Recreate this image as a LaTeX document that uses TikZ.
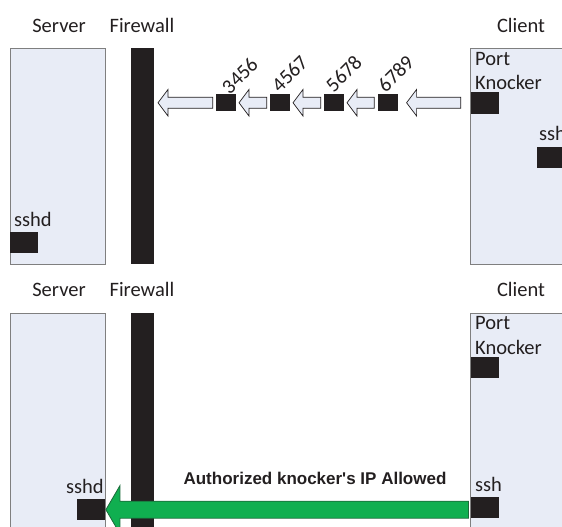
\documentclass[tikz,border=0pt]{standalone}
\usepackage{fontspec}
\setmainfont{Carlito}
\newfontfamily\arialfont{Liberation Sans}
\usetikzlibrary{calc}
\definecolor{panel}{HTML}{E8ECF6}
\definecolor{panelline}{HTML}{7F7F7F}
\definecolor{ink}{HTML}{231F20}
\definecolor{go}{HTML}{10AF50}
\definecolor{goline}{HTML}{1B6B3A}
\tikzset{
  x=1bp,y=-1bp,
  panelbox/.style={draw=panelline,fill=panel,line width=0.9bp,inner sep=0,anchor=north west},
  wall/.style={fill=ink,draw=none,inner sep=0,anchor=north west,minimum width=23bp},
  port/.style={fill=ink,draw=none,inner sep=0,anchor=north west},
  lbl/.style={text=ink,font=\fontsize{20.5bp}{22bp}\selectfont,inner sep=0,text height=13bp,text depth=0bp},
  lblw/.style={lbl,anchor=west},
  knock/.style={lbl,rotate=45},
  lightarrow/.style={draw=ink,fill=panel,line width=0.7bp,line join=miter},
  greenarrow/.style={draw=goline,fill=go,line width=0.8bp,line join=miter}
}
% #1 style, #2 tip, #3 tail, #4 half shaft, #5 half head, #6 head length
\newcommand{\blockarrow}[6]{%
  \path[#1] let \p1=(#2),\p2=(#3) in
    (\x1,\y1) -- ([xshift=#6bp,yshift=#5bp]\x1,\y1) -- ([xshift=#6bp,yshift=#4bp]\x1,\y1)
    -- ([yshift=#4bp]\x2,\y1) -- ([yshift=-#4bp]\x2,\y1)
    -- ([xshift=#6bp,yshift=-#4bp]\x1,\y1) -- ([xshift=#6bp,yshift=-#5bp]\x1,\y1) -- cycle;}
\begin{document}
\begin{tikzpicture}
\useasboundingbox (0,0) rectangle (562,527);
\clip (0,0) rectangle (562,527);
\fill[white] (0,0) rectangle (562,527);
% top panel
\node[panelbox,minimum width=95bp,minimum height=216bp] (srvA) at (10,48) {};
\node[wall,minimum height=216bp] (fwA) at (131,48) {};
\node[panelbox,minimum width=110bp,minimum height=216bp] (cliA) at (470,48) {};
\node[lbl] (srvAl) at (59,26) {Server};
\node[lbl] (fwAl) at (142,26) {Firewall};
\node[lbl] (cliAl) at (521,26) {Client};
\node[port,minimum width=28bp,minimum height=21bp] (sshdA) at (10,232) {};
\node[lblw] (sshdAl) at (14,220) {sshd};
\node[port,minimum width=28bp,minimum height=22bp] (pkA) at (470.5,92) {};
\node[lblw] (pA) at (475,59) {Port};
\node[lblw] (kA) at (475,83) {Knocker};
\node[port,minimum width=30bp,minimum height=21bp] (sshA) at (537,147) {};
\node[lblw] (sshAl) at (539,134) {ssh};
\foreach \n/\x in {a/216,b/270,c/324,d/378}
  \node[port,minimum width=19.5bp,minimum height=16.5bp] (\n) at (\x,94) {};
\node[knock] (la) at (240,76) {3456};
\node[knock] (lb) at (290,74) {4567};
\node[knock] (lc) at (344,74) {5678};
\node[knock] (ld) at (396,74) {6789};
\coordinate (t1) at ($(a.west)+(-58,0.3)$);
\coordinate (e1) at ($(a.west)+(-3.3,0.3)$);
\coordinate (t2) at ($(b.west)+(-31,0.3)$);
\coordinate (e2) at ($(b.west)+(-3.3,0.3)$);
\coordinate (t3) at ($(c.west)+(-31,0.3)$);
\coordinate (e3) at ($(c.west)+(-3.3,0.3)$);
\coordinate (t4) at ($(d.west)+(-31,0.3)$);
\coordinate (e4) at ($(d.west)+(-3.7,0.3)$);
\coordinate (t5) at ($(d.east)+(8.7,0.3)$);
\coordinate (e5) at ($(pkA.west)+(-9.7,0)$);
\blockarrow{lightarrow}{t1}{e1}{5.5}{13.3}{10}
\blockarrow{lightarrow}{t2}{e2}{5.5}{13.3}{10}
\blockarrow{lightarrow}{t3}{e3}{5.5}{13.3}{10}
\blockarrow{lightarrow}{t4}{e4}{5.5}{13.3}{10}
\blockarrow{lightarrow}{t5}{e5}{5.5}{13.3}{10}
% bottom panel
\node[panelbox,minimum width=95bp,minimum height=240bp] (srvB) at (10,312.5) {};
\node[wall,minimum height=240bp] (fwB) at (131,312.5) {};
\node[panelbox,minimum width=110bp,minimum height=240bp] (cliB) at (470,312.5) {};
\node[lbl] (srvBl) at (59,290) {Server};
\node[lbl] (fwBl) at (142,290) {Firewall};
\node[lbl] (cliBl) at (521,290) {Client};
\node[port,minimum width=28bp,minimum height=21bp] (sshdB) at (77,499) {};
\node[lblw] (sshdBl) at (66,487) {sshd};
\node[port,minimum width=28bp,minimum height=21bp] (pkB) at (470.5,357) {};
\node[lblw] (pB) at (475,323) {Port};
\node[lblw] (kB) at (475,348) {Knocker};
\node[port,minimum width=28bp,minimum height=21bp] (sshB) at (470.5,497) {};
\node[lblw] (sshBl) at (475,485) {ssh};
\node[inner sep=0,text=ink,font=\arialfont\bfseries\fontsize{17bp}{18bp}\selectfont] (auth) at (315,478) {Authorized knocker's IP Allowed};
\coordinate (gt) at ($(sshdB.east)+(0.5,0)$);
\coordinate (ge) at ($(sshB.west)+(-2,0)$);
\blockarrow{greenarrow}{gt}{ge}{8.5}{24}{14}
\end{tikzpicture}
\end{document}
